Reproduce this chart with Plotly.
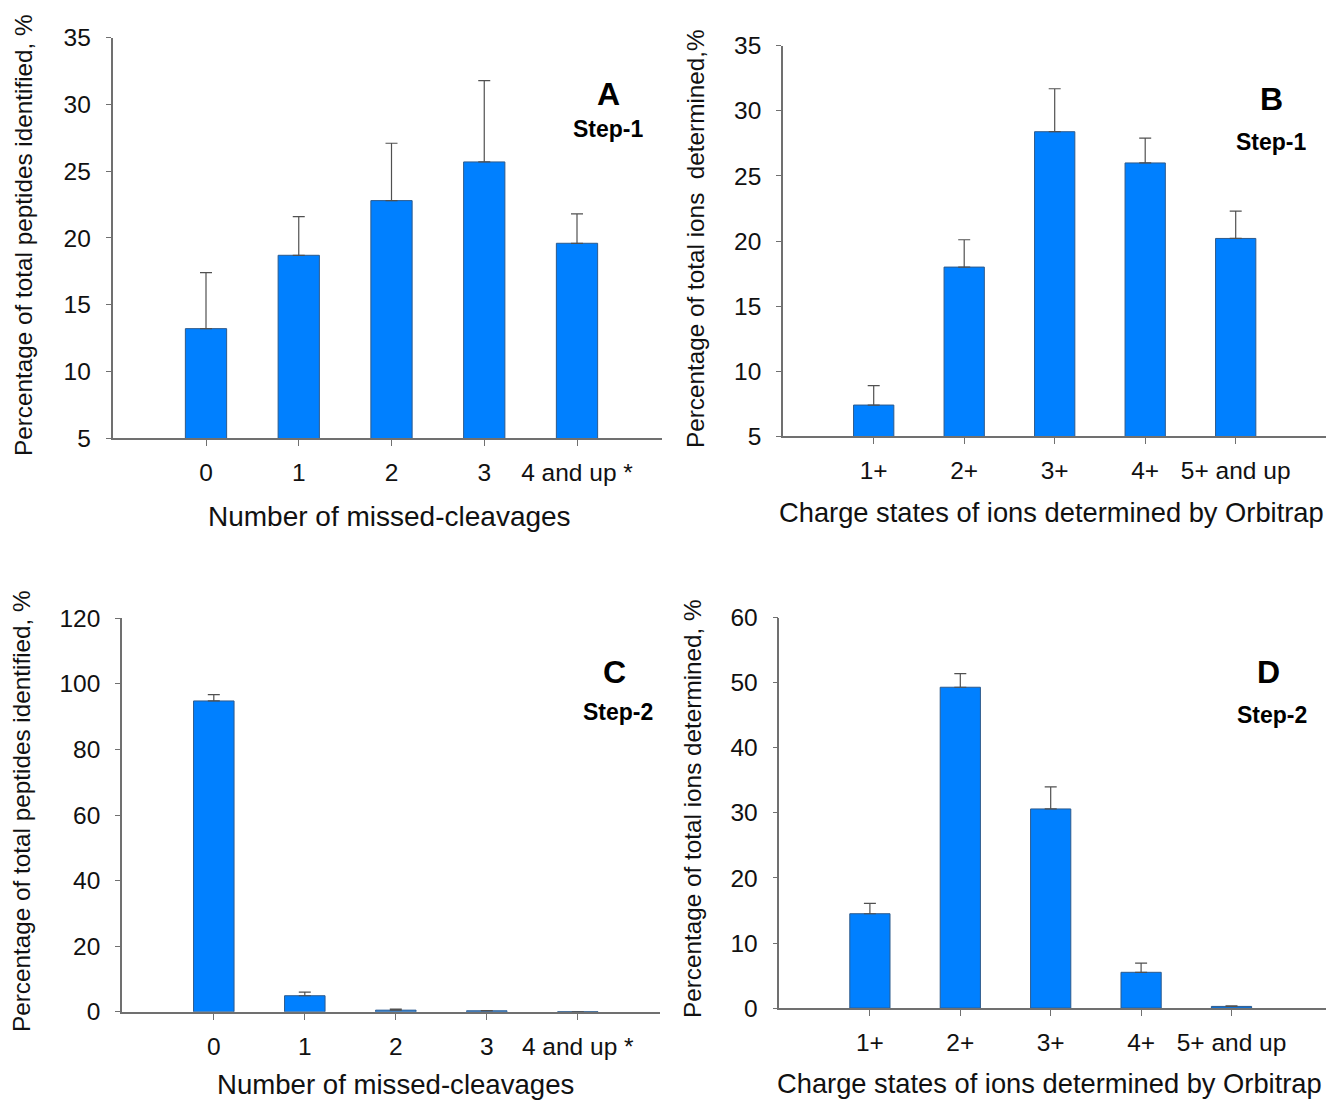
import plotly.graph_objects as go

# ---------------- data ----------------
missed_categories = ["0", "1", "2", "3", "4 and up *"]
charge_categories = ["1+", "2+", "3+", "4+", "5+ and up"]

a_values = [13.2, 18.7, 22.8, 25.7, 19.6]
a_err_top = [17.4, 21.6, 27.1, 31.8, 21.8]

b_values = [7.4, 18.0, 28.4, 26.0, 20.2]
b_err_top = [8.9, 20.1, 31.7, 27.9, 22.3]

c_values = [94.8, 4.9, 0.5, 0.3, 0.05]
c_err_top = [96.7, 6.0, 0.8, 0.35, 0.05]

d_values = [14.5, 49.3, 30.6, 5.5, 0.26]
d_err_top = [16.1, 51.4, 34.0, 6.9, 0.36]

W, H = 1326, 1102
FONT = "Liberation Sans, Arial, Helvetica, sans-serif"
BAR_COLOR = "#0080FF"

# panel geometry in pixels: left, right, top, bottom, first category centre, spacing
panels = [
    dict(cats=missed_categories, vals=a_values, err=a_err_top, yr=[5, 35], dt=5,
         geom=(112.5, 662, 37.9, 438, 206, 92.75),
         ytitle="Percentage of total peptides identified, %", ytpos=(23, 235),
         xtitle="Number of missed-cleavages", xtpos=(389, 516.5), xts=28,
         letter="A", lpos=(608, 94), step="Step-1", spos=(608, 129)),
    dict(cats=charge_categories, vals=b_values, err=b_err_top, yr=[5, 35], dt=5,
         geom=(783, 1326, 45.8, 436.3, 873.7, 90.5),
         ytitle="Percentage of total ions  determined,%", ytpos=(696, 239),
         xtitle="Charge states of ions determined by Orbitrap", xtpos=(1051, 513), xts=27.3,
         letter="B", lpos=(1271, 99), step="Step-1", spos=(1271, 142)),
    dict(cats=missed_categories, vals=c_values, err=c_err_top, yr=[0, 120], dt=20,
         geom=(122, 660, 618.3, 1011.8, 213.8, 91.0),
         ytitle="Percentage of total peptides identified, %", ytpos=(21, 811),
         xtitle="Number of missed-cleavages", xtpos=(395, 1084.5), xts=27.6,
         letter="C", lpos=(614, 672), step="Step-2", spos=(618, 711.5)),
    dict(cats=charge_categories, vals=d_values, err=d_err_top, yr=[0, 60], dt=10,
         geom=(779.4, 1326, 617.6, 1008.1, 869.9, 90.4),
         ytitle="Percentage of total ions determined, %", ytpos=(692, 809),
         xtitle="Charge states of ions determined by Orbitrap", xtpos=(1049, 1083), xts=27.3,
         letter="D", lpos=(1268, 671.5), step="Step-2", spos=(1272, 714.5)),
]

fig = go.Figure()
annotations = []
layout = {}

for i, p in enumerate(panels, start=1):
    left, right, top, bottom, c0, sp = p["geom"]
    xa = "x" if i == 1 else f"x{i}"
    ya = "y" if i == 1 else f"y{i}"
    up = [e - v for e, v in zip(p["err"], p["vals"])]
    fig.add_trace(go.Bar(
        x=p["cats"], y=p["vals"], xaxis=xa, yaxis=ya, width=0.445,
        marker=dict(color=BAR_COLOR, line=dict(color="#2d5a8c", width=1)),
        error_y=dict(type="data", array=up, arrayminus=[0] * len(up), symmetric=False,
                     color="#505050", thickness=1.2, width=6),
        showlegend=False, hoverinfo="x+y",
    ))
    xkey = "xaxis" if i == 1 else f"xaxis{i}"
    ykey = "yaxis" if i == 1 else f"yaxis{i}"
    layout[xkey] = dict(
        domain=[left / W, right / W],
        range=[(left - c0) / sp, (right - c0) / sp],
        anchor=ya, type="category", automargin=False,
        showline=True, linecolor="#707070", linewidth=1.5,
        ticks="outside", ticklen=6, tickcolor="#707070", tickwidth=1.2,
        ticklabelstandoff=6,
        showgrid=False, zeroline=False,
        tickfont=dict(family=FONT, size=24.5, color="#111111"),
        fixedrange=True,
    )
    layout[ykey] = dict(
        domain=[1 - bottom / H, 1 - top / H],
        range=p["yr"], dtick=p["dt"], tick0=0,
        anchor=xa, automargin=False,
        showline=True, linecolor="#707070", linewidth=1.5,
        ticks="outside", ticklen=5, tickcolor="#707070", tickwidth=1.2,
        ticklabelstandoff=10,
        showgrid=False, zeroline=False,
        tickfont=dict(family=FONT, size=24.5, color="#111111"),
        fixedrange=True,
    )
    annotations.append(dict(
        text=p["ytitle"], x=p["ytpos"][0] / W, y=1 - p["ytpos"][1] / H,
        xref="paper", yref="paper", showarrow=False, textangle=-90,
        xanchor="center", yanchor="middle",
        font=dict(family=FONT, size=24.3, color="#111111")))
    annotations.append(dict(
        text=p["xtitle"], x=p["xtpos"][0] / W, y=1 - p["xtpos"][1] / H,
        xref="paper", yref="paper", showarrow=False,
        xanchor="center", yanchor="middle",
        font=dict(family=FONT, size=p["xts"], color="#111111")))
    annotations.append(dict(
        text="<b>" + p["letter"] + "</b>", x=p["lpos"][0] / W, y=1 - p["lpos"][1] / H,
        xref="paper", yref="paper", showarrow=False,
        xanchor="center", yanchor="middle",
        font=dict(family=FONT, size=32, color="#000000")))
    annotations.append(dict(
        text="<b>" + p["step"] + "</b>", x=p["spos"][0] / W, y=1 - p["spos"][1] / H,
        xref="paper", yref="paper", showarrow=False,
        xanchor="center", yanchor="middle",
        font=dict(family=FONT, size=23, color="#000000")))

fig.update_layout(
    width=W, height=H,
    margin=dict(l=0, r=0, t=0, b=0, pad=0, autoexpand=False),
    paper_bgcolor="white", plot_bgcolor="white",
    annotations=annotations,
    bargap=0.55,
    **layout,
)

fig.write_html("out.html", config={"displayModeBar": False})
